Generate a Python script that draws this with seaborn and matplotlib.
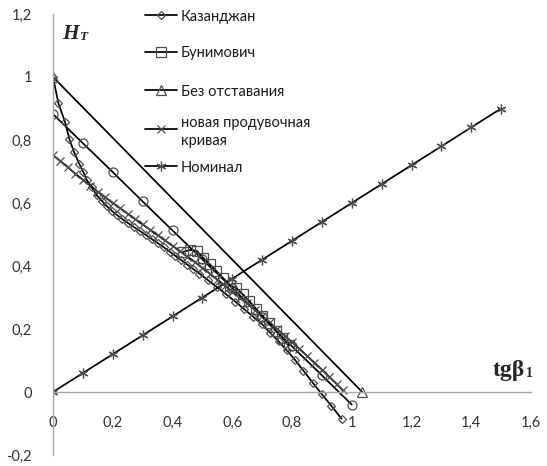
import numpy as np
import pandas as pd
import seaborn as sns
import matplotlib
matplotlib.use("Agg")
import matplotlib.pyplot as plt
from matplotlib.lines import Line2D

# ---- data -------------------------------------------------------------
kaz_x = [0.0, 0.018, 0.04, 0.055, 0.07, 0.088, 0.101, 0.113, 0.129, 0.146,
         0.163, 0.18, 0.197, 0.214, 0.232, 0.25, 0.27, 0.29, 0.31, 0.33,
         0.35, 0.37, 0.39, 0.41, 0.43, 0.45, 0.47, 0.49, 0.52, 0.55,
         0.58, 0.61, 0.64, 0.67, 0.70, 0.727, 0.755, 0.782, 0.81, 0.838,
         0.869, 0.899, 0.932, 0.966]
kaz_y = [1.0, 0.917, 0.858, 0.802, 0.763, 0.724, 0.699, 0.673, 0.652, 0.625,
         0.607, 0.59, 0.575, 0.562, 0.549, 0.537, 0.524, 0.512, 0.499, 0.486,
         0.473, 0.46, 0.446, 0.432, 0.418, 0.404, 0.39, 0.376, 0.354, 0.332,
         0.31, 0.287, 0.263, 0.239, 0.215, 0.188, 0.161, 0.133, 0.102, 0.068,
         0.03, -0.006, -0.044, -0.085]

bun_x = [0.436, 0.459, 0.481, 0.503, 0.525, 0.547, 0.569, 0.591, 0.613,
         0.635, 0.657, 0.679, 0.701, 0.723, 0.745, 0.767, 0.789]
bun_y = [0.445, 0.451, 0.448, 0.426, 0.405, 0.384, 0.362, 0.34, 0.33,
         0.31, 0.288, 0.265, 0.242, 0.218, 0.195, 0.172, 0.148]

lag_x = [0.0, 1.035]
lag_y = [1.0, 0.0]

new_x = [0.0, 0.025, 0.05, 0.075, 0.1, 0.125, 0.15, 0.175, 0.2, 0.225,
         0.25, 0.275, 0.3, 0.325, 0.35, 0.375, 0.4, 0.425, 0.45, 0.475,
         0.5, 0.525, 0.55, 0.575, 0.6, 0.625, 0.65, 0.675, 0.7, 0.725,
         0.75, 0.775, 0.8, 0.825, 0.85, 0.875, 0.9, 0.925, 0.95, 0.97]
new_y = [0.752, 0.733, 0.713, 0.693, 0.674, 0.655, 0.636, 0.618, 0.6, 0.583,
         0.566, 0.549, 0.532, 0.515, 0.498, 0.481, 0.464, 0.447, 0.43, 0.412,
         0.394, 0.376, 0.357, 0.338, 0.319, 0.3, 0.281, 0.261, 0.241, 0.221,
         0.2, 0.179, 0.158, 0.137, 0.115, 0.093, 0.071, 0.048, 0.025, 0.005]

nom_x = [0.0, 0.1, 0.2, 0.3, 0.4, 0.5, 0.6, 0.7, 0.8, 0.9, 1.0, 1.1, 1.2,
         1.3, 1.4, 1.5]
nom_y = [0.0, 0.06, 0.12, 0.18, 0.24, 0.3, 0.36, 0.42, 0.48, 0.54, 0.6,
         0.66, 0.72, 0.78, 0.84, 0.9]

circ_x = [0.0, 0.1, 0.2, 0.3, 0.4, 0.5, 0.6, 0.7, 0.8, 0.9, 1.0]
circ_y = [0.882, 0.79, 0.698, 0.605, 0.513, 0.421, 0.33, 0.238, 0.145, 0.053, -0.04]

legend_labels = ["Казанджан", "Бунимович", "Без отставания",
                 "новая продувочная\nкривая", "Номинал"]

x_ticks = [0, 0.2, 0.4, 0.6, 0.8, 1.0, 1.2, 1.4, 1.6]
x_tick_labels = ["0", "0,2", "0,4", "0,6", "0,8", "1", "1,2", "1,4", "1,6"]
y_ticks = [-0.2, 0, 0.2, 0.4, 0.6, 0.8, 1.0, 1.2]
y_tick_labels = ["-0,2", "0", "0,2", "0,4", "0,6", "0,8", "1", "1,2"]

# ---- style ------------------------------------------------------------
sns.set_style("white")
plt.rcParams["font.family"] = ["Lato", "DejaVu Sans"]

W, H = 547, 466
fig = plt.figure(figsize=(W / 100, H / 100), dpi=100)
ax = fig.add_axes([53 / W, 11 / H, 478 / W, 441 / H])

edge = "#505050"
line_kw = dict(color="black", linewidth=1.25, sort=False, estimator=None,
               markerfacecolor="none", markeredgecolor=edge,
               markeredgewidth=0.9, ax=ax)

series = [
    (circ_x, circ_y, "o", 6.5),
    (nom_x, nom_y, (6, 2, 0), 7),
    (lag_x, lag_y, "^", 7),
    (new_x, new_y, "x", 5.5),
    (kaz_x, kaz_y, "D", 4.2),
    (bun_x, bun_y, "s", 6.5),
]
for xs, ys, mk, ms in series:
    df = pd.DataFrame({"x": xs, "y": ys})
    sns.lineplot(data=df, x="x", y="y", marker=mk, markersize=ms, **line_kw)

# ---- axes -------------------------------------------------------------
ax.set_xlim(0, 1.6)
ax.set_ylim(-0.2, 1.2)
ax.set_xlabel("")
ax.set_ylabel("")
for s in ("top", "right"):
    ax.spines[s].set_visible(False)
ax.spines["bottom"].set_position(("data", 0))
for s in ("left", "bottom"):
    ax.spines[s].set_color("#a6a6a6")
    ax.spines[s].set_linewidth(1.0)

ax.set_xticks(x_ticks)
ax.set_xticklabels(x_tick_labels)
ax.set_yticks(y_ticks)
ax.set_yticklabels(y_tick_labels)
ax.tick_params(axis="both", colors="#a6a6a6", labelcolor="#333333",
               labelsize=10.5, length=4, width=1.0, direction="out")
ax.tick_params(axis="x", pad=13)
ax.tick_params(axis="y", pad=11)
ax.grid(False)


# ---- axis titles ------------------------------------------------------
def fx(px):
    return px / W


def fy(py):
    return 1 - py / H


renderer = fig.canvas.get_renderer()


def title_with_index(x_px, base_px, main, sub, size, sub_size, style, sub_drop):
    t = fig.text(fx(x_px), fy(base_px), main, family="Liberation Serif",
                 fontsize=size, fontweight="bold", fontstyle=style,
                 va="baseline", ha="left")
    bb = t.get_window_extent(renderer)
    fig.text(bb.x1 / W + 0.5 / W, fy(base_px + sub_drop), sub,
             family="Liberation Serif", fontsize=sub_size, fontweight="bold",
             fontstyle=style, va="baseline", ha="left")


title_with_index(62, 39, "H", "T", 15.5, 9.5, "italic", 1)
title_with_index(493, 376, "tgβ", "1", 17, 10, "normal", 1)

# ---- legend -----------------------------------------------------------
legend_markers = [("D", 4.2), ("s", 6.5), ("^", 7), ("x", 5.5), ((6, 2, 0), 7)]
legend_rows = [15, 52, 90, 129, 166]
for lab, (mk, ms), py in zip(legend_labels, legend_markers, legend_rows):
    fig.add_artist(Line2D([fx(145), fx(161), fx(177)], [fy(py)] * 3,
                          transform=fig.transFigure, color="black",
                          linewidth=1.25, marker=mk, markersize=ms,
                          markevery=[1], markerfacecolor="none",
                          markeredgecolor=edge, markeredgewidth=0.9))
    fig.text(fx(181), fy(py), lab, fontsize=10.5, color="#1a1a1a",
             va="center_baseline", ha="left", linespacing=1.3)

fig.savefig("out.png", dpi=100)
